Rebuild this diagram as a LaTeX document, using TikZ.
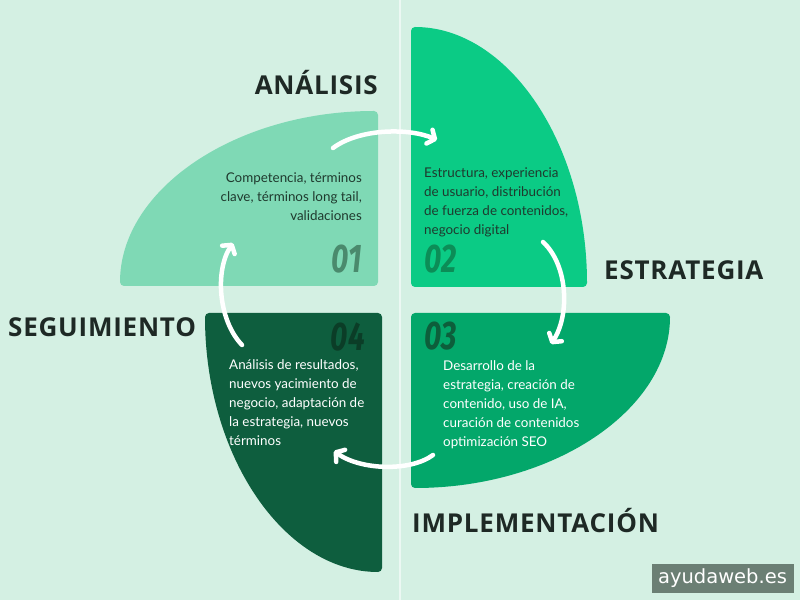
\documentclass[tikz,border=0pt]{standalone}
\usepackage{fontspec}
\usepackage{graphicx}
\setmainfont{Lato}
\newfontfamily\headfont[LetterSpace=3]{Open Sans}
\newfontfamily\numfont{Fira Sans}
\newfontfamily\wmfont{DejaVu Sans}
\usetikzlibrary{arrows.meta}
\definecolor{bg}{HTML}{D4F0E3}
\definecolor{pone}{HTML}{7FD9B5}
\definecolor{ptwo}{HTML}{0BCB85}
\definecolor{pthree}{HTML}{03A76A}
\definecolor{pfour}{HTML}{0E5E3E}
\definecolor{headc}{HTML}{1E2925}
\definecolor{bodyd}{HTML}{1F3A2E}
\definecolor{nonec}{HTML}{4A8A6D}
\definecolor{ntwoc}{HTML}{0C8D57}
\definecolor{nthreec}{HTML}{0D5E3B}
\definecolor{nfourc}{HTML}{0B3D27}
\definecolor{wmbox}{HTML}{6B7F74}
\tikzset{
  petal/.style={rounded corners=4pt},
  headtxt/.style={font=\headfont\bfseries\fontsize{26}{30}\selectfont, text=headc, inner sep=0pt},
  bodytxt/.style={font=\fontsize{13.4}{19}\selectfont, inner sep=0pt},
  numtxt/.style={font=\numfont\bfseries\itshape\fontsize{40}{40}\selectfont, inner sep=0pt},
  flowarrow/.style={draw=white, line width=4.5pt, line cap=round,
    -{Straight Barb[length=6pt,width=15pt,line cap=round,line join=round]}}
}
\begin{document}
\begin{tikzpicture}[x=1pt,y=1pt]
\fill[bg] (0,0) rectangle (800,600);
\useasboundingbox (0,0) rectangle (800,600);
\draw[white!55!bg, line width=1.2pt] (400,0) -- (400,600);
% petals
\fill[pone, petal] (378,314) -- (120,314) arc[start angle=180, end angle=90, x radius=258, y radius=175] -- cycle;
\fill[ptwo, petal] (411,313) -- (411,573) arc[start angle=90, end angle=0, x radius=176, y radius=260] -- cycle;
\fill[pthree, petal] (411,287) -- (670,287) arc[start angle=0, end angle=-90, x radius=259, y radius=175] -- cycle;
\fill[pfour, petal] (382,287) -- (382,28) arc[start angle=-90, end angle=-180, x radius=177, y radius=259] -- cycle;
% headings
\node[headtxt, anchor=base east] (h1) at (378,505) {ANÁLISIS};
\node[headtxt, anchor=base west] (h2) at (604,320) {ESTRATEGIA};
\node[headtxt, anchor=base west] (h3) at (412,68) {IMPLEMENTACIÓN};
\node[headtxt, anchor=base west] (h4) at (8,263) {SEGUIMIENTO};
% numbers
\node[numtxt, text=nonec, anchor=base east] (n1) at (362,327) {\scalebox{0.75}[1]{01}};
\node[numtxt, text=ntwoc, anchor=base west] (n2) at (424,327) {\scalebox{0.75}[1]{02}};
\node[numtxt, text=nthreec, anchor=base west] (n3) at (424,250) {\scalebox{0.75}[1]{03}};
\node[numtxt, text=nfourc, anchor=base east] (n4) at (365,249) {\scalebox{0.75}[1]{04}};
% body texts
\node[bodytxt, text=bodyd, align=right, anchor=east] (t1) at (362,403) {Competencia, términos\\clave, términos long tail,\\validaciones};
\node[bodytxt, text=bodyd, align=left, anchor=west] (t2) at (424,398) {Estructura, experiencia\\de usuario, distribución\\de fuerza de contenidos,\\negocio digital};
\node[bodytxt, text=white, align=left, anchor=west] (t3) at (443,195.5) {Desarrollo de la\\estrategia, creación de\\contenido, uso de IA,\\curación de contenidos\\optimización SEO};
\node[bodytxt, text=white, align=left, anchor=west] (t4) at (229,197) {Análisis de resultados,\\nuevos yacimiento de\\negocio, adaptación de\\la estrategia, nuevos\\términos};
% arrows
\coordinate (a1s) at (333,452); \coordinate (a1e) at (437,460);
\coordinate (a2s) at (543,358); \coordinate (a2e) at (551,256);
\coordinate (a3s) at (433,145); \coordinate (a3e) at (334,149);
\coordinate (a4s) at (242,255); \coordinate (a4e) at (233,357);
\draw[flowarrow] (a1s) .. controls (360,472) and (410,472) .. (a1e);
\draw[flowarrow] (a2s) .. controls (568,335) and (570,285) .. (a2e);
\draw[flowarrow] (a3s) .. controls (410,128) and (360,130) .. (a3e);
\draw[flowarrow] (a4s) .. controls (218,280) and (215,330) .. (a4e);
% watermark
\node[fill=wmbox, text=white, font=\wmfont\fontsize{19.5}{22}\selectfont, minimum width=142pt, minimum height=29pt, inner sep=0pt] (wm) at (722.5,21.5) {ayudaweb.es};
\end{tikzpicture}
\end{document}
